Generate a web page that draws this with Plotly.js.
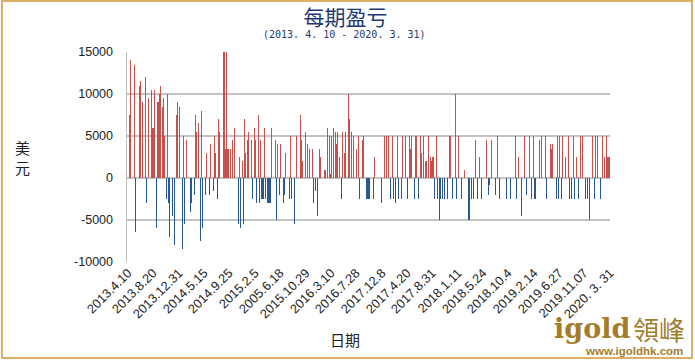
<!DOCTYPE html>
<html>
<head>
<meta charset="utf-8">
<script src="https://cdn.plot.ly/plotly-3.0.1.min.js"></script>
<style>
html,body{margin:0;padding:0;background:#fff;}
#wrap{position:relative;width:695px;height:362px;}
#chart{width:695px;height:362px;}
#frame{position:absolute;left:1px;top:0px;width:692px;height:359px;box-sizing:border-box;border:2px solid #dcb063;pointer-events:none;}
</style>
</head>
<body>
<div id="wrap"><div id="chart"></div><div id="frame"></div></div>
<script>
// Trading-day number (sequence along the period) and profit/loss per period (USD)
const tradeDay = [2,3,7,8,12,13,15,18,19,21,24,25,26,27,29,30,31,32,33,35,36,37,39,40,41,42,45,47,49,50,52,55,56,57,59,63,64,67,68,69,71,73,74,75,78,79,82,83,86,87,88,90,91,92,
96,97,98,99,100,101,103,105,107,111,112,113,115,116,117,118,120,121,124,125,127,128,129,131,132,133,134,135,136,137,138,140,141,142,143,144,148,149,150,152,153,156,157,158,162,163,164,167,169,173,174,175,178,180,182,185,186,188,190,192,193,
197,198,200,202,203,204,206,208,209,210,212,214,215,217,218,221,222,224,226,229,231,232,235,236,239,240,241,242,246,247,254,257,259,261,263,265,266,268,270,271,274,275,278,280,282,283,284,287,288,289,291,
293,294,296,298,299,301,303,304,305,306,307,309,310,312,313,315,317,320,322,323,325,328,329,331,334,337,341,342,344,346,348,350,352,354,359,361,362,364,368,370,372,379,383,388,389,
391,394,397,399,402,404,406,407,408,412,414,418,419,423,424,425,429,430,431,432,434,435,438,441,442,444,446,447,449,451,453,455,458,460,462,465,467,468,470,473,475,477,479,480,481,482];
const pnl = [7500,14000,13500,-6400,11000,11500,9000,12000,-3000,9500,10500,6000,6000,10500,-6000,9000,9000,10000,11000,8500,9500,5000,-2500,10000,-3000,-7000,-4500,-8000,7500,9000,8500,-8500,5000,-5500,4500,-4000,-3000,-2000,7500,5500,6500,-7500,8000,-6000,-2000,3000,-2000,4000,-1500,5000,3000,-2500,7000,5500,
15000,15000,3500,15000,3500,3500,3500,4500,6000,-5500,2500,-6000,2000,-5500,7000,3000,4500,5500,4500,-2500,6000,4500,-3000,7500,-3000,4500,-2500,-2500,-2500,6000,-2500,-3000,-3000,-3000,-3000,6000,4500,-5000,4000,-2000,4000,-3000,-2000,3000,-2500,5000,-2500,-5500,5000,7500,4500,2000,5500,4000,3500,3500,-3000,-1500,-4500,3500,2500,
1000,1000,6000,5000,500,5000,6000,5500,4000,5500,2500,-2500,5500,3000,5500,10000,7000,5500,5000,3500,5000,-2500,4500,5000,-2500,-2500,-2500,-2500,-2500,2500,-3000,5000,5000,5000,-2500,5000,-2500,-3000,5000,-2500,-2500,5000,5000,-2500,5000,3500,5000,-2500,5000,5000,-2500,
5000,3000,5000,2000,2000,5000,2500,2000,2500,2500,-2500,5000,-2500,-5000,-2500,-2500,-2500,-2500,5000,5000,-2500,10000,-2500,5000,-2500,1000,-5000,-5000,-2500,-2500,4500,-2500,2500,-2500,4500,-2000,-800,4500,-2000,5000,-2500,-2500,-2500,5000,-2500,
2500,-4500,5000,-2000,5000,-2500,5000,-2500,-2500,4500,5000,5000,-2500,4000,3500,4000,-2500,5000,-2500,5000,-2500,5000,2500,5000,-2500,-2500,5000,-2500,2500,-2500,5000,5000,-2500,-2500,-5000,5000,-2500,5000,5000,-2500,5000,2500,5000,2500,2500,2500];
// Date labels shown under the axis and the trading day each one marks
const tickDay = [1,26,52,77,102,128,153,179,204,229,255,280,305,331,356,381,407,432,457,483];
const tickLabels = ['2013.4.10','2013.8.20','2013.12.31','2014.5.15','2014.9.25','2015.2.5','2005.6.18','2015.10.29','2016.3.10','2016.7.28','2017.12.8','2017.4.20','2017.8.31','2018.1.11','2018.5.24','2018.10.4','2019.2.14','2019.6.27','2019.11.07','2020. 3. 31'];
const yTicks = [-10000,-5000,0,5000,10000,15000];
const titleText = '每期盈亏';
const subtitleText = '(2013. 4. 10 - 2020. 3. 31)';
const yTitle = '美<br>元';
const xTitle = '日期';

const posX = [], posY = [], negX = [], negY = [];
tradeDay.forEach((d, i) => {
  if (pnl[i] >= 0) { posX.push(d); posY.push(pnl[i]); }
  else { negX.push(d); negY.push(pnl[i]); }
});

const traces = [
  {type:'bar', x:posX, y:posY, width:1.0, marker:{color:'#c8504c', line:{width:0}}, hoverinfo:'x+y'},
  {type:'bar', x:negX, y:negY, width:1.0, marker:{color:'#2a5796', line:{width:0}}, hoverinfo:'x+y'}
];

const gold = '#a47d2b';
const layout = {
  width:695, height:362,
  margin:{l:127, r:85, t:52, b:100},
  paper_bgcolor:'#ffffff', plot_bgcolor:'#ffffff',
  showlegend:false, barmode:'overlay', bargap:0,
  title:{text:titleText, x:0.497, xref:'container', y:0.952, yref:'container', yanchor:'middle', xanchor:'center',
         font:{family:'Noto Sans CJK SC', size:21, color:'#1f3a72'}},
  xaxis:{type:'linear', range:[0,483], tickmode:'array', tickvals:tickDay, ticktext:tickLabels,
         tickangle:-45, showgrid:false, zeroline:false, showline:false, ticks:'',
         tickfont:{family:'Liberation Sans', size:12.8, color:'#222'}},
  yaxis:{range:[-10000,15000], tickmode:'array', tickvals:yTicks, ticktext:yTicks.map(v => String(v)),
         showgrid:true, gridcolor:'#c4c4c4', gridwidth:1.5,
         zeroline:true, zerolinecolor:'#c4c4c4', zerolinewidth:1.5,
         showline:true, linecolor:'#bdbdbd', linewidth:1.5, ticks:'', ticklabelstandoff:10,
         tickfont:{family:'Liberation Sans', size:12.5, color:'#222'}},
  annotations:[
    {text:subtitleText, xref:'paper', yref:'paper', x:0.451, y:1.081, showarrow:false, xanchor:'center', yanchor:'middle',
     font:{family:'DejaVu Sans Mono', size:10, color:'#1f3a72'}},
    {text:yTitle, xref:'paper', yref:'paper', x:-0.217, y:0.5, showarrow:false, xanchor:'center', yanchor:'middle',
     font:{family:'Noto Sans CJK SC', size:15, color:'#222'}},
    {text:xTitle, xref:'paper', yref:'paper', x:0.451, y:-0.371, showarrow:false, xanchor:'center', yanchor:'middle',
     font:{family:'Noto Sans CJK SC', size:15, color:'#222'}},
    {text:'<b>igold</b>', xref:'paper', yref:'paper', x:0.963, y:-0.315, showarrow:false, xanchor:'center', yanchor:'middle',
     font:{family:'DejaVu Serif', size:27, color:gold}},
    {text:'領峰', xref:'paper', yref:'paper', x:1.102, y:-0.318, showarrow:false, xanchor:'center', yanchor:'middle',
     font:{family:'Noto Sans CJK TC', size:26, color:gold}},
    {text:'<b>www.igoldhk.com</b>', xref:'paper', yref:'paper', x:1.05, y:-0.425, showarrow:false, xanchor:'center', yanchor:'middle',
     font:{family:'Liberation Sans', size:11.5, color:gold}}
  ]
};
Plotly.newPlot('chart', traces, layout, {displayModeBar:false, staticPlot:true});
</script>
</body>
</html>
